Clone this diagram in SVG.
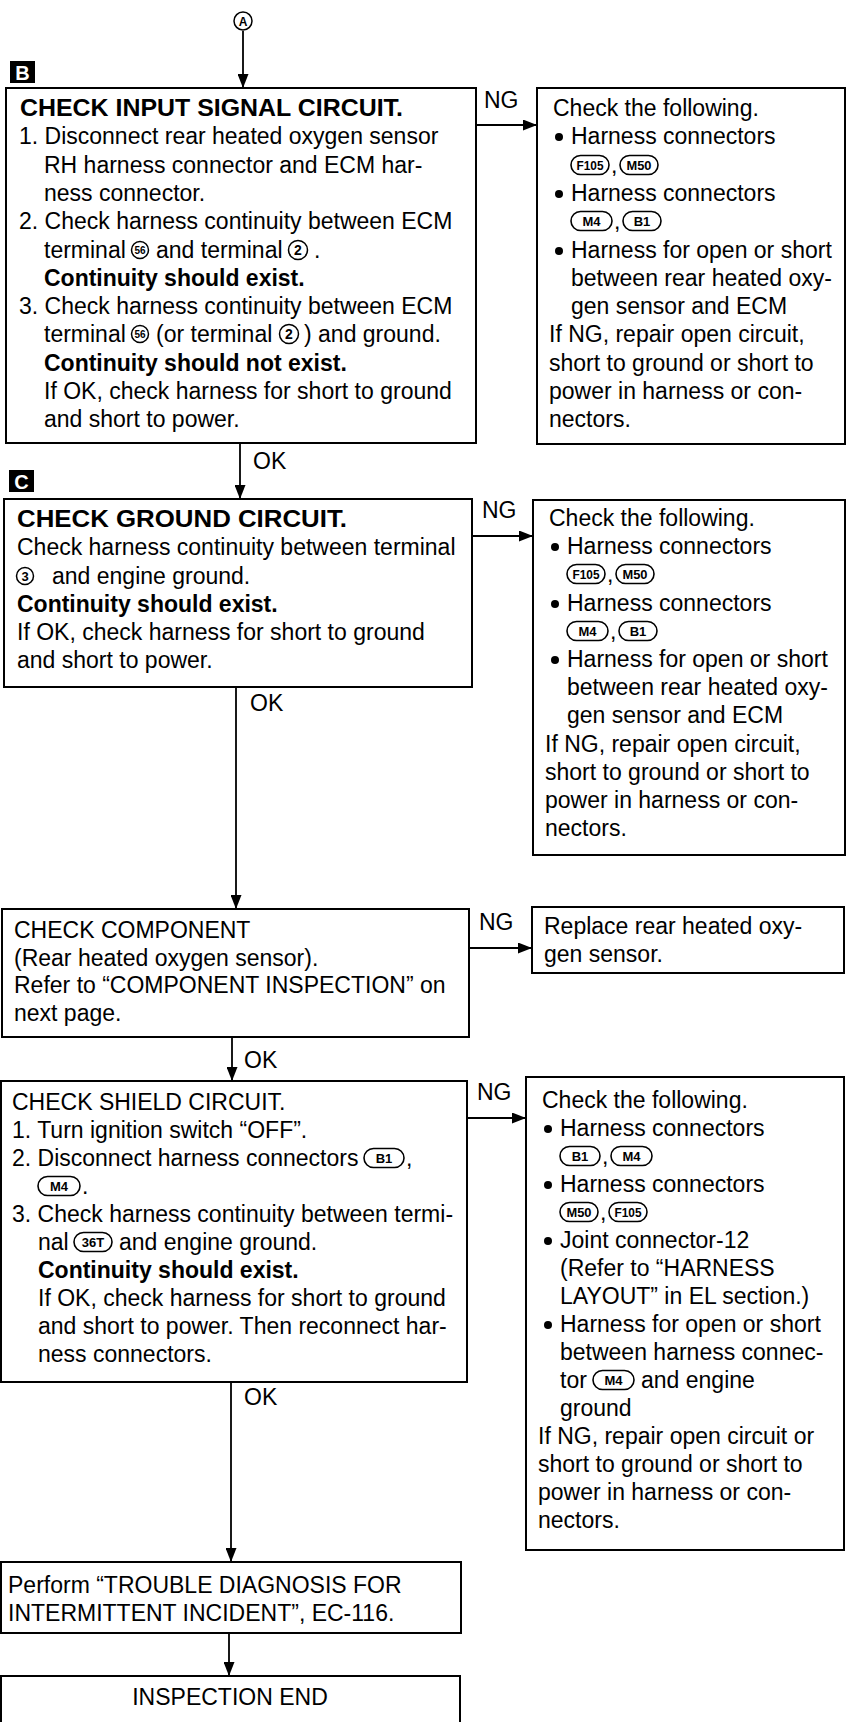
<svg xmlns="http://www.w3.org/2000/svg" width="849" height="1722" viewBox="0 0 849 1722">
<defs>
<style>
.t{font-family:"Liberation Sans",Arial,Helvetica,sans-serif;font-size:23px;fill:#000}
.b{font-weight:bold}
.box{fill:#fff;stroke:#000;stroke-width:2}
.ln{stroke:#000;stroke-width:1.8;fill:none;marker-end:url(#ah)}
.pill{fill:none;stroke:#000;stroke-width:1.6}
.pt{font-family:"Liberation Sans",Arial,sans-serif;font-size:13px;font-weight:bold;text-anchor:middle;fill:#000}
.cir{fill:none;stroke:#000;stroke-width:1.5}
.ct{font-family:"Liberation Sans",Arial,sans-serif;font-weight:bold;text-anchor:middle;fill:#000}
.bul{fill:#000}
.lab{fill:#000}
.labt{font-family:"Liberation Sans",Arial,sans-serif;font-size:20px;font-weight:bold;fill:#fff;text-anchor:middle}
</style>
<marker id="ah" markerWidth="14" markerHeight="11" refX="14" refY="5.5" orient="auto" markerUnits="userSpaceOnUse"><path d="M0,0 L14,5.5 L0,11 z" fill="#000"/></marker>
</defs>

<g id="connectors">
<line class="ln" x1="243" y1="31" x2="243" y2="88"/>
<line class="ln" x1="476" y1="125" x2="537" y2="125"/>
<text class="t" x="484" y="108">NG</text>
<line class="ln" x1="240" y1="443" x2="240" y2="499"/>
<text class="t" x="253" y="469">OK</text>
<line class="ln" x1="472" y1="536" x2="533" y2="536"/>
<text class="t" x="482" y="518">NG</text>
<line class="ln" x1="236" y1="687" x2="236" y2="909"/>
<text class="t" x="250" y="711">OK</text>
<line class="ln" x1="469" y1="948" x2="532" y2="948"/>
<text class="t" x="479" y="930">NG</text>
<line class="ln" x1="232" y1="1037" x2="232" y2="1081"/>
<text class="t" x="244" y="1068">OK</text>
<line class="ln" x1="467" y1="1118" x2="526" y2="1118"/>
<text class="t" x="477" y="1100">NG</text>
<line class="ln" x1="231" y1="1382" x2="231" y2="1562"/>
<text class="t" x="244" y="1405">OK</text>
<line class="ln" x1="229" y1="1633" x2="229" y2="1676"/>
</g>

<g id="start-A">
<circle class="cir" cx="243" cy="21" r="9"/>
<text class="ct" x="243" y="25.5" font-size="12">A</text>
</g>

<g id="node-B">
<rect class="lab" x="10" y="61" width="25" height="22"/>
<text class="labt" x="22.5" y="79.5">B</text>
<rect class="box" x="6" y="88" width="470" height="355"/>
<text class="t b" x="20" y="116" textLength="383" lengthAdjust="spacingAndGlyphs">CHECK INPUT SIGNAL CIRCUIT.</text>
<text class="t" x="19" y="144">1. Disconnect rear heated oxygen sensor</text>
<text class="t" x="44" y="173">RH harness connector and ECM har-</text>
<text class="t" x="44" y="201">ness connector.</text>
<text class="t" x="19" y="229">2. Check harness continuity between ECM</text>
<text class="t" x="44" y="258">terminal</text>
<circle class="cir" cx="140" cy="250" r="8.5"/>
<text class="ct" x="140" y="253.5" font-size="10">56</text>
<text class="t" x="156" y="258">and terminal</text>
<circle class="cir" cx="298" cy="250" r="9.5"/>
<text class="ct" x="298" y="255" font-size="14">2</text>
<text class="t" x="314" y="258">.</text>
<text class="t b" x="44" y="286">Continuity should exist.</text>
<text class="t" x="19" y="314">3. Check harness continuity between ECM</text>
<text class="t" x="44" y="342">terminal</text>
<circle class="cir" cx="140" cy="334" r="8.5"/>
<text class="ct" x="140" y="337.5" font-size="10">56</text>
<text class="t" x="156" y="342">(or terminal</text>
<circle class="cir" cx="289" cy="334" r="9.5"/>
<text class="ct" x="289" y="339" font-size="14">2</text>
<text class="t" x="304" y="342">) and ground.</text>
<text class="t b" x="44" y="371">Continuity should not exist.</text>
<text class="t" x="44" y="399">If OK, check harness for short to ground</text>
<text class="t" x="44" y="427">and short to power.</text>
</g>

<g id="ng-B">
<rect class="box" x="537" y="88" width="308" height="356"/>
<text class="t" x="553" y="116">Check the following.</text>
<circle class="bul" cx="559" cy="137" r="4"/>
<text class="t" x="571" y="144">Harness connectors</text>
<rect class="pill" x="571" y="155.5" width="38" height="19" rx="9.5"/>
<text class="pt" x="590" y="169.5" textLength="27" lengthAdjust="spacingAndGlyphs">F105</text>
<text class="t" x="611" y="173">,</text>
<rect class="pill" x="620" y="155.5" width="38" height="19" rx="9.5"/>
<text class="pt" x="639" y="169.5" textLength="25" lengthAdjust="spacingAndGlyphs">M50</text>
<circle class="bul" cx="559" cy="194" r="4"/>
<text class="t" x="571" y="201">Harness connectors</text>
<rect class="pill" x="571" y="211.5" width="41" height="19" rx="9.5"/>
<text class="pt" x="591.5" y="225.5">M4</text>
<text class="t" x="614" y="229">,</text>
<rect class="pill" x="623" y="211.5" width="38" height="19" rx="9.5"/>
<text class="pt" x="642" y="225.5">B1</text>
<circle class="bul" cx="559" cy="251" r="4"/>
<text class="t" x="571" y="258">Harness for open or short</text>
<text class="t" x="571" y="286">between rear heated oxy-</text>
<text class="t" x="571" y="314">gen sensor and ECM</text>
<text class="t" x="549" y="342">If NG, repair open circuit,</text>
<text class="t" x="549" y="371">short to ground or short to</text>
<text class="t" x="549" y="399">power in harness or con-</text>
<text class="t" x="549" y="427">nectors.</text>
</g>

<g id="node-C">
<rect class="lab" x="9" y="470" width="25" height="22"/>
<text class="labt" x="21.5" y="488.5">C</text>
<rect class="box" x="4" y="499" width="468" height="188"/>
<text class="t b" x="17" y="527" textLength="330" lengthAdjust="spacingAndGlyphs">CHECK GROUND CIRCUIT.</text>
<text class="t" x="17" y="555">Check harness continuity between terminal</text>
<circle class="cir" cx="25" cy="576" r="8.5"/>
<text class="ct" x="25" y="581" font-size="13">3</text>
<text class="t" x="52" y="584">and engine ground.</text>
<text class="t b" x="17" y="612">Continuity should exist.</text>
<text class="t" x="17" y="640">If OK, check harness for short to ground</text>
<text class="t" x="17" y="668">and short to power.</text>
</g>

<g id="ng-C">
<rect class="box" x="533" y="500" width="312" height="355"/>
<text class="t" x="549" y="526">Check the following.</text>
<circle class="bul" cx="555" cy="547" r="4"/>
<text class="t" x="567" y="554">Harness connectors</text>
<rect class="pill" x="567" y="564.5" width="38" height="19" rx="9.5"/>
<text class="pt" x="586" y="578.5" textLength="27" lengthAdjust="spacingAndGlyphs">F105</text>
<text class="t" x="607" y="582">,</text>
<rect class="pill" x="616" y="564.5" width="38" height="19" rx="9.5"/>
<text class="pt" x="635" y="578.5" textLength="25" lengthAdjust="spacingAndGlyphs">M50</text>
<circle class="bul" cx="555" cy="604" r="4"/>
<text class="t" x="567" y="611">Harness connectors</text>
<rect class="pill" x="567" y="621.5" width="41" height="19" rx="9.5"/>
<text class="pt" x="587.5" y="635.5">M4</text>
<text class="t" x="610" y="639">,</text>
<rect class="pill" x="619" y="621.5" width="38" height="19" rx="9.5"/>
<text class="pt" x="638" y="635.5">B1</text>
<circle class="bul" cx="555" cy="660" r="4"/>
<text class="t" x="567" y="667">Harness for open or short</text>
<text class="t" x="567" y="695">between rear heated oxy-</text>
<text class="t" x="567" y="723">gen sensor and ECM</text>
<text class="t" x="545" y="752">If NG, repair open circuit,</text>
<text class="t" x="545" y="780">short to ground or short to</text>
<text class="t" x="545" y="808">power in harness or con-</text>
<text class="t" x="545" y="836">nectors.</text>
</g>

<g id="node-component">
<rect class="box" x="2" y="909" width="467" height="128"/>
<text class="t" x="14" y="938">CHECK COMPONENT</text>
<text class="t" x="14" y="966">(Rear heated oxygen sensor).</text>
<text class="t" x="14" y="993">Refer to “COMPONENT INSPECTION” on</text>
<text class="t" x="14" y="1021">next page.</text>
</g>

<g id="ng-component">
<rect class="box" x="532" y="907" width="312" height="66"/>
<text class="t" x="544" y="934">Replace rear heated oxy-</text>
<text class="t" x="544" y="962">gen sensor.</text>
</g>

<g id="node-shield">
<rect class="box" x="1" y="1081" width="466" height="301"/>
<text class="t" x="12" y="1110">CHECK SHIELD CIRCUIT.</text>
<text class="t" x="12" y="1138">1. Turn ignition switch “OFF”.</text>
<text class="t" x="12" y="1166">2. Disconnect harness connectors</text>
<rect class="pill" x="364" y="1148.5" width="40" height="19" rx="9.5"/>
<text class="pt" x="384" y="1162.5">B1</text>
<text class="t" x="406" y="1166">,</text>
<rect class="pill" x="38" y="1176.5" width="42" height="19" rx="9.5"/>
<text class="pt" x="59" y="1190.5">M4</text>
<text class="t" x="82" y="1194">.</text>
<text class="t" x="12" y="1222">3. Check harness continuity between termi-</text>
<text class="t" x="38" y="1250">nal</text>
<rect class="pill" x="74" y="1232.5" width="38" height="19" rx="9.5"/>
<text class="pt" x="93" y="1246.5">36T</text>
<text class="t" x="119" y="1250">and engine ground.</text>
<text class="t b" x="38" y="1278">Continuity should exist.</text>
<text class="t" x="38" y="1306">If OK, check harness for short to ground</text>
<text class="t" x="38" y="1334">and short to power. Then reconnect har-</text>
<text class="t" x="38" y="1362">ness connectors.</text>
</g>

<g id="ng-shield">
<rect class="box" x="526" y="1077" width="318" height="473"/>
<text class="t" x="542" y="1108">Check the following.</text>
<circle class="bul" cx="548" cy="1129" r="4"/>
<text class="t" x="560" y="1136">Harness connectors</text>
<rect class="pill" x="560" y="1146.5" width="40" height="19" rx="9.5"/>
<text class="pt" x="580" y="1160.5">B1</text>
<text class="t" x="602" y="1164">,</text>
<rect class="pill" x="611" y="1146.5" width="41" height="19" rx="9.5"/>
<text class="pt" x="631.5" y="1160.5">M4</text>
<circle class="bul" cx="548" cy="1185" r="4"/>
<text class="t" x="560" y="1192">Harness connectors</text>
<rect class="pill" x="560" y="1202.5" width="38" height="19" rx="9.5"/>
<text class="pt" x="579" y="1216.5" textLength="25" lengthAdjust="spacingAndGlyphs">M50</text>
<text class="t" x="600" y="1220">,</text>
<rect class="pill" x="609" y="1202.5" width="38" height="19" rx="9.5"/>
<text class="pt" x="628" y="1216.5" textLength="27" lengthAdjust="spacingAndGlyphs">F105</text>
<circle class="bul" cx="548" cy="1241" r="4"/>
<text class="t" x="560" y="1248">Joint connector-12</text>
<text class="t" x="560" y="1276">(Refer to “HARNESS</text>
<text class="t" x="560" y="1304">LAYOUT” in EL section.)</text>
<circle class="bul" cx="548" cy="1325" r="4"/>
<text class="t" x="560" y="1332">Harness for open or short</text>
<text class="t" x="560" y="1360">between harness connec-</text>
<text class="t" x="560" y="1388">tor</text>
<rect class="pill" x="593" y="1370.5" width="41" height="19" rx="9.5"/>
<text class="pt" x="613.5" y="1384.5">M4</text>
<text class="t" x="641" y="1388">and engine</text>
<text class="t" x="560" y="1416">ground</text>
<text class="t" x="538" y="1444">If NG, repair open circuit or</text>
<text class="t" x="538" y="1472">short to ground or short to</text>
<text class="t" x="538" y="1500">power in harness or con-</text>
<text class="t" x="538" y="1528">nectors.</text>
</g>

<g id="node-perform">
<rect class="box" x="1" y="1562" width="460" height="71"/>
<text class="t" x="8" y="1593">Perform “TROUBLE DIAGNOSIS FOR</text>
<text class="t" x="8" y="1621">INTERMITTENT INCIDENT”, EC-116.</text>
</g>

<g id="node-end">
<rect class="box" x="1" y="1676" width="459" height="60"/>
<text class="t" x="230" y="1705" text-anchor="middle">INSPECTION END</text>
</g>
</svg>
